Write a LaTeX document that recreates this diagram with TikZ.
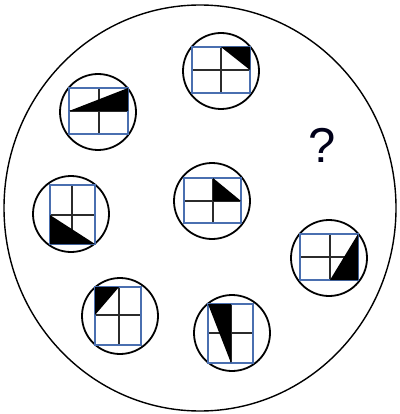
\documentclass[tikz,border=0pt]{standalone}
\usepackage{fontspec}
\newfontfamily\qfont{Liberation Sans}
\definecolor{gridblue}{HTML}{4A6FB0}
\definecolor{gridline}{HTML}{2B2B2B}
\tikzset{
  ring/.style={circle,draw=black,line width=1.8pt,minimum size=76pt,inner sep=0pt},
  outerring/.style={draw=black,line width=1.4pt},
  gridborder/.style={draw=gridblue,line width=1.2pt},
  gridinner/.style={draw=gridline,line width=1.4pt},
  wedge/.style={fill=black,draw=none}
}
% \puzzlegrid{x0}{x1}{y0}{y1}{xm}{ym}{triangle path}
\newcommand{\puzzlegrid}[7]{%
  \draw[gridinner] (#5,#3) -- (#5,#4) (#1,#6) -- (#2,#6);
  \draw[gridborder] (#1,#3) rectangle (#2,#4);
  \fill[wedge] #7 -- cycle;
}
\begin{document}
\begin{tikzpicture}[x=1pt,y=-1pt]
\useasboundingbox (0,0) rectangle (399,414);
\draw[outerring] (200,208) ellipse [x radius=196, y radius=203];

\node[ring] (c1) at (221,71) {};
\node[ring] (c2) at (98,112) {};
\node[ring] (c3) at (71,214) {};
\node[ring] (c4) at (212,201) {};
\node[ring] (c5) at (329,258) {};
\node[ring] (c6) at (120,316) {};
\node[ring] (c7) at (232,333) {};

\puzzlegrid{192}{250}{47}{93}{221}{70}{(221,47) -- (250,47) -- (250,70)}
\puzzlegrid{69}{128}{88}{134}{99}{111}{(69,111) -- (128,88) -- (128,111)}
\puzzlegrid{50}{95}{185}{244}{72}{215}{(50,215) -- (50,244) -- (95,244)}
\puzzlegrid{184}{241}{178}{223}{213}{201}{(213,178) -- (213,201) -- (241,201)}
\puzzlegrid{300}{358}{234}{280}{330}{257}{(330,280) -- (358,234) -- (358,280)}
\puzzlegrid{95}{141}{287}{345}{119}{315}{(95,287) -- (119,287) -- (95,315)}
\puzzlegrid{208}{253}{304}{363}{231}{333}{(208,304) -- (231,304) -- (231,363)}

\node[font=\qfont\fontsize{49}{49}\selectfont, text=black!90!blue, inner sep=0pt] (q) at (322,145) {?};
\end{tikzpicture}
\end{document}
